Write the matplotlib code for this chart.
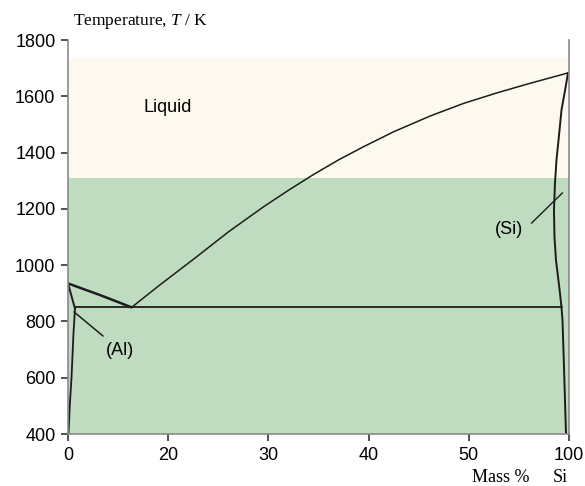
import matplotlib
matplotlib.use("Agg")
import matplotlib.pyplot as plt

# ---- data (mass % Si, temperature K) ----
liquid_band = (1310, 1735)      # cream "Liquid" band (T range)
solid_band = (400, 1310)        # green band (T range)

al_liquidus_x = [0.0, 6.5, 12.7]
al_liquidus_T = [935, 893, 850]

al_solidus_x = [0.0, 1.4]
al_solidus_T = [935, 845]

al_solvus_x = [1.4, 1.1, 0.7, 0.35, 0.1]
al_solvus_T = [845, 760, 600, 500, 400]

si_liquidus_x = [12.7, 18.0, 25.7, 32.0, 39.0, 44.0, 49.0, 54.0, 58.9,
                 65.0, 72.3, 79.0, 85.6, 92.0, 99.8]
si_liquidus_T = [850, 925, 1030, 1118, 1207, 1266, 1322, 1374, 1420,
                 1474, 1530, 1575, 1612, 1645, 1683]

si_solidus_x = [99.8, 99.2, 98.5, 98.0, 97.5, 97.2, 97.0, 97.1, 97.4,
                97.8, 98.2, 98.5, 98.7, 99.0, 99.2, 99.4]
si_solidus_T = [1683, 1620, 1551, 1460, 1374, 1290, 1196, 1100, 1018,
                960, 900, 850, 805, 638, 520, 400]

eutectic_x = [1.3, 98.6]
eutectic_T = [850, 850]

al_leader_x = [1.2, 7.0]
al_leader_T = [834, 748]
si_leader_x = [92.5, 98.7]
si_leader_T = [1149, 1257]

xtick_pos = [0, 20, 40, 60, 80, 100]
xtick_labels = ['0', '20', '30', '40', '50', '100']
ytick_pos = [400, 600, 800, 1000, 1200, 1400, 1600, 1800]

plt.rcParams['mathtext.fontset'] = 'custom'
plt.rcParams['mathtext.rm'] = 'Liberation Serif'
plt.rcParams['mathtext.it'] = 'Liberation Serif:italic'

fig = plt.figure(figsize=(5.85, 4.86), dpi=100)
ax = fig.add_axes([68/585, 1-434/486, 501/585, 394/486])

cream = '#fdf9ee'
green = '#bfdcc0'
ax.axhspan(*liquid_band, color=cream, lw=0, zorder=0)
ax.axhspan(*solid_band, color=green, lw=0, zorder=0)

lc = '#1c1c1c'
kw = dict(color=lc, solid_joinstyle='round', solid_capstyle='round')
ax.plot(al_liquidus_x, al_liquidus_T, lw=1.8, **kw)
ax.plot(al_solidus_x, al_solidus_T, lw=1.4, **kw)
ax.plot(al_solvus_x, al_solvus_T, lw=1.3, **kw)
ax.plot(si_liquidus_x, si_liquidus_T, lw=1.1, **kw)
ax.plot(si_solidus_x, si_solidus_T, lw=1.4, **kw)
ax.plot(eutectic_x, eutectic_T, lw=1.3, **kw)
ax.plot(al_leader_x, al_leader_T, lw=1.1, **kw)
ax.plot(si_leader_x, si_leader_T, lw=1.0, **kw)

sans = 'Liberation Sans'
ax.text(19.8, 1560, 'Liquid', family=sans, fontsize=13, ha='center', va='center')
ax.text(10.4, 698, '(Al)', family=sans, fontsize=13, ha='center', va='center')
ax.text(88.0, 1125, '(Si)', family=sans, fontsize=13, ha='center', va='center')

ax.set_xlim(0, 100)
ax.set_ylim(400, 1800)
ax.set_xticks(xtick_pos)
ax.set_xticklabels(xtick_labels)
ax.set_yticks(ytick_pos)
for lab in ax.get_xticklabels() + ax.get_yticklabels():
    lab.set_family(sans)
    lab.set_fontsize(13)
ax.tick_params(direction='out', length=5, width=1.2, color='#333333', pad=4)

for s in ['left', 'bottom', 'right']:
    ax.spines[s].set_color('#8a8a8a')
    ax.spines[s].set_linewidth(1.2)
ax.spines['top'].set_visible(False)

fig.text(73/585, 1-25/486, 'Temperature, $T$ / K', family='Liberation Serif',
         fontsize=12.5, ha='left', va='baseline')
fig.text(472/585, 1-482/486, 'Mass %', family='Liberation Serif',
         fontsize=13, ha='left', va='baseline')
fig.text(553/585, 1-482/486, 'Si', family='Liberation Serif',
         fontsize=13, ha='left', va='baseline')

fig.savefig('out.png', dpi=100)
